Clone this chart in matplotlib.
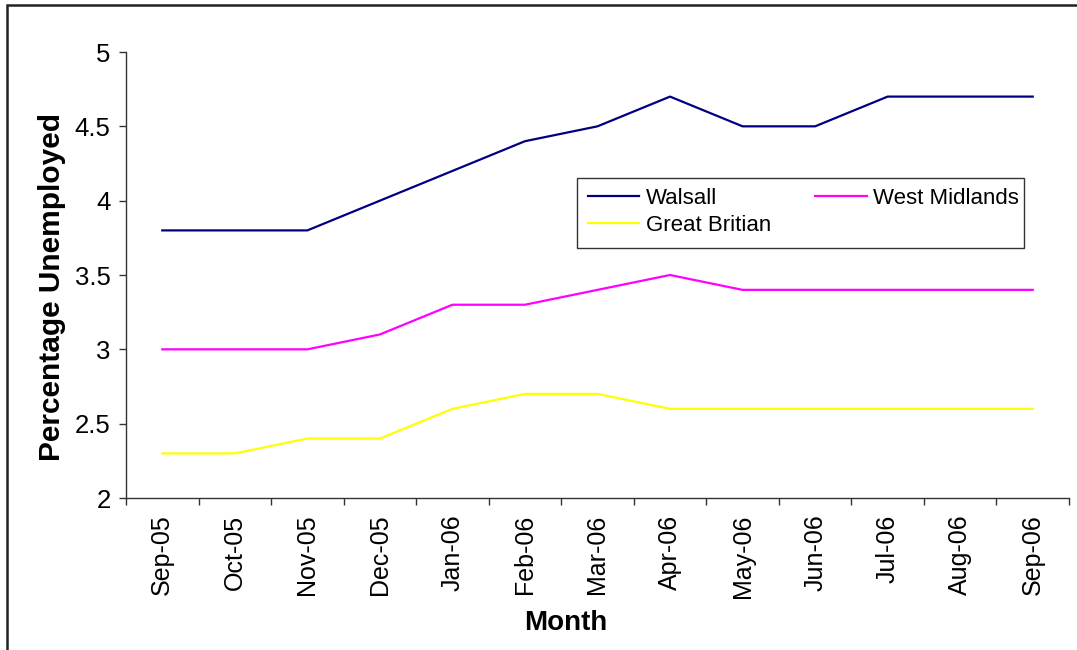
import numpy as np
import matplotlib.pyplot as plt
from matplotlib.patches import Rectangle

plt.rcParams['font.family'] = ['Liberation Sans', 'DejaVu Sans']

months = ["Sep-05", "Oct-05", "Nov-05", "Dec-05", "Jan-06", "Feb-06", "Mar-06",
          "Apr-06", "May-06", "Jun-06", "Jul-06", "Aug-06", "Sep-06"]
walsall = [3.8, 3.8, 3.8, 4.0, 4.2, 4.4, 4.5, 4.7, 4.5, 4.5, 4.7, 4.7, 4.7]
west_mid = [3.0, 3.0, 3.0, 3.1, 3.3, 3.3, 3.4, 3.5, 3.4, 3.4, 3.4, 3.4, 3.4]
great_brit = [2.3, 2.3, 2.4, 2.4, 2.6, 2.7, 2.7, 2.6, 2.6, 2.6, 2.6, 2.6, 2.6]

W, H = 1077, 650
fig = plt.figure(figsize=(W / 100, H / 100), dpi=100)
# axes box in pixels: left 126, right 1069, top 52, bottom 498
ax = fig.add_axes([126 / W, 1 - 498 / H, (1069 - 126) / W, (498 - 52) / H])

x = np.arange(len(months))
l1, = ax.plot(x, walsall, color="#000080", lw=1.6, label="Walsall")
l2, = ax.plot(x, west_mid, color="#FF00FF", lw=1.6, label="West Midlands")
l3, = ax.plot(x, great_brit, color="#FFFF00", lw=1.6, label="Great Britian")

ax.set_xlim(-0.5, len(months) - 0.5)
ax.set_ylim(2, 5)
ax.set_yticks(np.arange(2, 5.01, 0.5))
ax.set_yticklabels(["2", "2.5", "3", "3.5", "4", "4.5", "5"])
ax.set_xticks(x)
ax.set_xticklabels(months, rotation=90)
ax.set_xticks(np.arange(-0.5, len(months)), minor=True)

ax.tick_params(axis="x", which="major", length=0, pad=12, labelsize=18)
ax.tick_params(axis="x", which="minor", length=5, width=1, color="#333333", direction="out")
ax.tick_params(axis="y", length=5, width=1, color="#333333", direction="out", pad=6, labelsize=18.5)

for s in ["top", "right"]:
    ax.spines[s].set_visible(False)
for s in ["left", "bottom"]:
    ax.spines[s].set_color("#333333")
    ax.spines[s].set_linewidth(1)

fig.text(52 / W, 1 - 287 / H, "Percentage Unemployed", rotation=90, fontsize=21.5,
         fontweight="bold", ha="center", va="center")
fig.text(566 / W, 1 - 623 / H, "Month", fontsize=20, fontweight="bold",
         ha="center", va="center")

# legend box
fig.patches.append(Rectangle((577 / W, 1 - 248 / H), (1024 - 577) / W, 70 / H,
                             transform=fig.transFigure, facecolor="white",
                             edgecolor="#333333", lw=1, zorder=5))
# handles ordered so that rows read Walsall / West Midlands, then Great Britian
leg = fig.legend(handles=[l1, l3, l2], loc="upper left", ncol=2,
                 bbox_to_anchor=(588 / W, 1 - 188 / H), frameon=False,
                 fontsize=16, handlelength=2.3, handletextpad=0.3,
                 columnspacing=2.0, labelspacing=0.25, borderpad=0, borderaxespad=0)
leg.set_zorder(6)

# outer chart frame
fig.patches.append(Rectangle((7 / W, -0.05), 1.1, 1 - 5 / H + 0.05,
                             transform=fig.transFigure, fill=False,
                             edgecolor="#222222", lw=1.8))

fig.savefig("out.png", dpi=100)
